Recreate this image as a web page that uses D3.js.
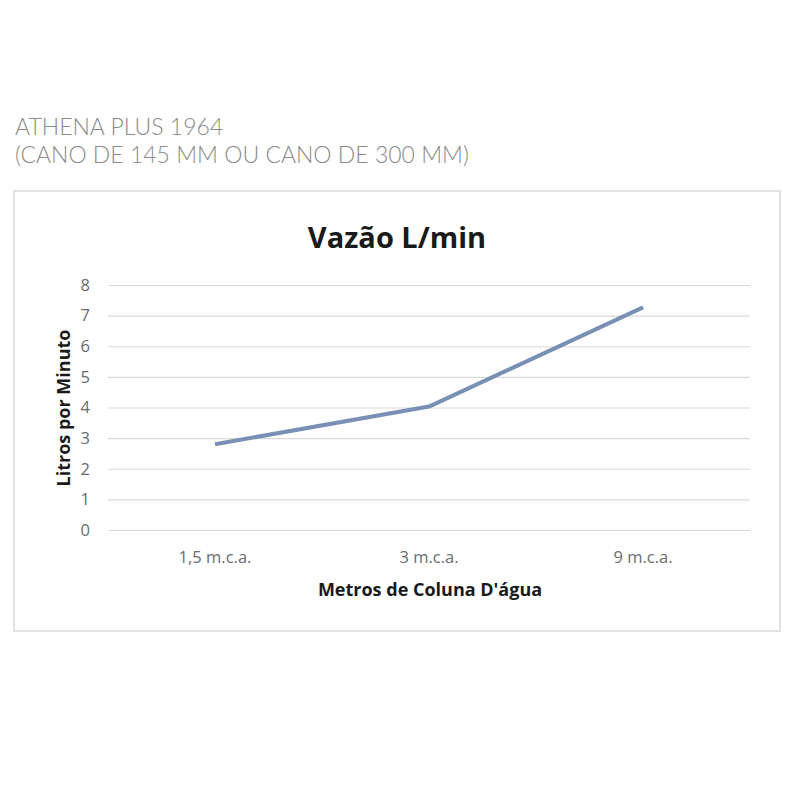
<!DOCTYPE html>
<html>
<head>
<meta charset="utf-8">
<script src="https://cdn.jsdelivr.net/npm/d3@7"></script>
<style>
  body { margin: 0; background: #fff; }
  svg text { font-family: "Open Sans", "DejaVu Sans", sans-serif; }
</style>
</head>
<body>
<div id="chart"></div>
<script>
const categories = ['1,5 m.c.a.', '3 m.c.a.', '9 m.c.a.'];
const vazao = [2.8, 4.03, 7.27];
const yTicks = [0, 1, 2, 3, 4, 5, 6, 7, 8];
const headerLines = ['ATHENA PLUS 1964', '(CANO DE 145 MM OU CANO DE 300 MM)'];

const W = 800, H = 800;
const plot = {left: 108, right: 750, top: 285, bottom: 530};

const svg = d3.select('#chart').append('svg')
    .attr('width', W)
    .attr('height', H);

svg.append('rect').attr('width', W).attr('height', H).attr('fill', '#fff');

// header above the chart box
svg.selectAll('.header')
    .data(headerLines)
  .enter().append('text')
    .attr('class', 'header')
    .attr('x', 15)
    .attr('y', (d, i) => 135 + i * 28)
    .style('font-family', 'Lato, sans-serif')
    .style('font-weight', 300)
    .style('font-size', '23px')
    .attr('fill', '#8a8a8a')
    .text(d => d);

// chart frame
svg.append('rect')
    .attr('x', 14).attr('y', 191)
    .attr('width', 766).attr('height', 440)
    .attr('fill', '#fff')
    .attr('stroke', '#d9d9d9')
    .attr('stroke-width', 1.5);

svg.append('text')
    .attr('x', 397).attr('y', 248)
    .attr('text-anchor', 'middle')
    .style('font-size', '29px')
    .style('font-weight', 'bold')
    .attr('fill', '#1a1a1a')
    .text('Vazão L/min');

const x = d3.scaleBand()
    .domain(categories)
    .range([plot.left, plot.right]);

const y = d3.scaleLinear()
    .domain([0, 8])
    .range([plot.bottom, plot.top]);

const yAxis = d3.axisLeft(y)
    .tickValues(yTicks)
    .tickSize(-(plot.right - plot.left))
    .tickPadding(18);

const gy = svg.append('g')
    .attr('transform', 'translate(' + plot.left + ',0)')
    .call(yAxis);
gy.select('.domain').remove();
gy.selectAll('line').attr('stroke', '#d9d9d9').attr('stroke-width', 1.2);
gy.selectAll('text')
    .attr('fill', '#6b6b6b')
    .style('font-size', '16.5px');

const xAxis = d3.axisBottom(x).tickSize(0).tickPadding(21);
const gx = svg.append('g')
    .attr('transform', 'translate(0,' + plot.bottom + ')')
    .call(xAxis);
gx.select('.domain').remove();
gx.selectAll('text')
    .attr('fill', '#6b6b6b')
    .style('font-size', '16.5px');

svg.append('text')
    .attr('x', 430).attr('y', 596)
    .attr('text-anchor', 'middle')
    .style('font-size', '18px')
    .style('font-weight', 'bold')
    .attr('fill', '#1a1a1a')
    .text("Metros de Coluna D'água");

svg.append('text')
    .attr('transform', 'translate(70,' + 408 + ') rotate(-90)')
    .attr('text-anchor', 'middle')
    .style('font-size', '18px')
    .style('font-weight', 'bold')
    .attr('fill', '#1a1a1a')
    .text('Litros por Minuto');

const line = d3.line()
    .x((d, i) => x(categories[i]) + x.bandwidth() / 2)
    .y(d => y(d));

svg.append('path')
    .datum(vazao)
    .attr('d', line)
    .attr('fill', 'none')
    .attr('stroke', '#7890b4')
    .attr('stroke-width', 4)
    .attr('stroke-linejoin', 'round');
</script>
</body>
</html>
